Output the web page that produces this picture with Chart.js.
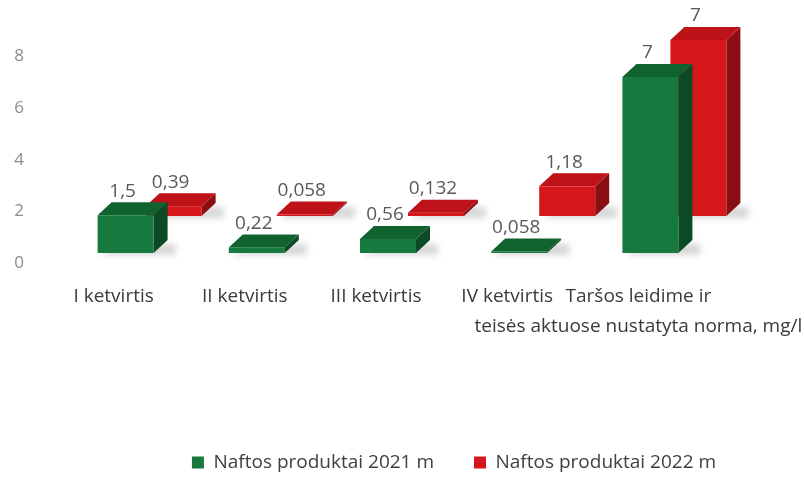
<!DOCTYPE html>
<html><head><meta charset="utf-8">
<script src="https://cdn.jsdelivr.net/npm/chart.js@4.4.1/dist/chart.umd.min.js"></script>
<style>html,body{margin:0;padding:0;background:#fff;}#wrap{width:804px;height:477px;position:relative;}</style>
</head><body><div id="wrap"><canvas id="c"></canvas></div>
<script>
const categories = [["I ketvirtis"], ["II ketvirtis"], ["III ketvirtis"], ["IV ketvirtis"], ["Taršos leidime ir", "teisės aktuose nustatyta norma, mg/l"]];
const series2021 = [1.5, 0.22, 0.56, 0.058, 7];
const series2022 = [0.39, 0.058, 0.132, 1.18, 7];
const seriesNames = ["Naftos produktai 2021 m", "Naftos produktai 2022 m"];
const yTicks = [0, 2, 4, 6, 8];

const FACES = [
  {front: '#17793d', top: '#10622f', side: '#0b4a24'},
  {front: '#d5161b', top: '#bd1217', side: '#8a0f12'}
];
const DEPTH = {dx: 14, dy: -13};
const ROW_SHIFT = [{dx: 0, dy: 0}, {dx: 48, dy: -37}];
const FRONT_W = 56;
const fmt = v => String(v).replace('.', ',');

function drawBox(ctx, x0, x1, yt, yb, c) {
  const {dx, dy} = DEPTH;
  ctx.save();
  ctx.filter = 'blur(3px)';
  ctx.fillStyle = 'rgba(0,0,0,0.16)';
  ctx.beginPath();
  ctx.moveTo(x0 + 4, yb + 2);
  ctx.lineTo(x1 + dx + 8, yb + 2);
  ctx.lineTo(x1 + dx + 8, yb + dy + 4);
  ctx.lineTo(x0 + dx, yb + dy + 4);
  ctx.closePath();
  ctx.fill();
  ctx.restore();
  ctx.fillStyle = c.side;
  ctx.beginPath();
  ctx.moveTo(x1, yt); ctx.lineTo(x1 + dx, yt + dy); ctx.lineTo(x1 + dx, yb + dy); ctx.lineTo(x1, yb);
  ctx.closePath(); ctx.fill();
  ctx.fillStyle = c.top;
  ctx.beginPath();
  ctx.moveTo(x0, yt); ctx.lineTo(x0 + dx, yt + dy); ctx.lineTo(x1 + dx, yt + dy); ctx.lineTo(x1, yt);
  ctx.closePath(); ctx.fill();
  ctx.fillStyle = c.front;
  ctx.fillRect(x0, yt, x1 - x0, yb - yt);
}

const bars3d = {
  id: 'bars3d',
  afterLayout(chart) {
    const lg = chart.legend;
    if (lg) {
      const h = lg.bottom - lg.top;
      lg.top = 413; lg.bottom = 413 + h;
      lg.left += 96; lg.right += 96;
    }
  },
  beforeDatasetsDraw(chart) {
    const ctx = chart.ctx;
    const order = [1, 0];
    const labelsToDraw = [];
    order.forEach(d => {
      const meta = chart.getDatasetMeta(d);
      const vals = chart.data.datasets[d].data;
      meta.data.forEach((el, i) => {
        const s = ROW_SHIFT[d];
        const x0 = el.x - FRONT_W / 2 + s.dx;
        const x1 = x0 + FRONT_W;
        const yt = el.y + s.dy;
        const yb = el.base + s.dy;
        drawBox(ctx, x0, x1, yt, yb, FACES[d]);
        labelsToDraw.push({x: x0 + 25, y: yt + DEPTH.dy - 11, t: fmt(vals[i])});
      });
    });
    ctx.save();
    ctx.font = '19px "Open Sans"';
    ctx.fillStyle = '#595959';
    ctx.textAlign = 'center';
    ctx.textBaseline = 'middle';
    labelsToDraw.forEach(l => ctx.fillText(l.t, l.x, l.y));
    ctx.restore();
    return false;
  }
};

Chart.defaults.font.family = "'Open Sans', sans-serif";
new Chart(document.getElementById('c'), {
  type: 'bar',
  plugins: [bars3d],
  data: {
    labels: categories,
    datasets: [
      {label: seriesNames[0], data: series2021, backgroundColor: FACES[0].front, yAxisID: 'yb', grouped: false, barPercentage: 0.43, categoryPercentage: 1},
      {label: seriesNames[1], data: series2022, backgroundColor: FACES[1].front, yAxisID: 'yb', grouped: false, barPercentage: 0.43, categoryPercentage: 1}
    ]
  },
  options: {
    responsive: true, maintainAspectRatio: false, animation: false, devicePixelRatio: 1,
    layout: {padding: {top: 5, right: 88, bottom: 0, left: 0}},
    plugins: {
      tooltip: {enabled: false},
      legend: {
        position: 'bottom',
        labels: {boxWidth: 12, boxHeight: 12, padding: 40, color: '#404040', font: {size: 19}}
      }
    },
    scales: {
      x: {
        grid: {display: false, drawTicks: false}, border: {display: false},
        ticks: {color: '#3a3a3a', font: {size: 19, lineHeight: 1.55}, padding: 19, labelOffset: -12, maxRotation: 0, autoSkip: false},
        afterFit(s) {
          s.paddingLeft = 0; s.paddingRight = 0;
          const lh = s.chart.legend ? s.chart.legend.height : 60;
          s.height = s.chart.height - 263 - lh;
        }
      },
      y: {
        min: 0, max: 10,
        grid: {display: false, drawTicks: false}, border: {display: false},
        ticks: {color: '#8c8c8c', font: {size: 17}, padding: 36},
        afterBuildTicks(s) { s.ticks = yTicks.map(v => ({value: v})); },
        afterFit(s) { s.width = 60; s.paddingTop = 0; s.paddingBottom = 0; }
      },
      yb: {display: false, min: -0.398, max: 9.86}
    }
  }
});
</script>
</body></html>
